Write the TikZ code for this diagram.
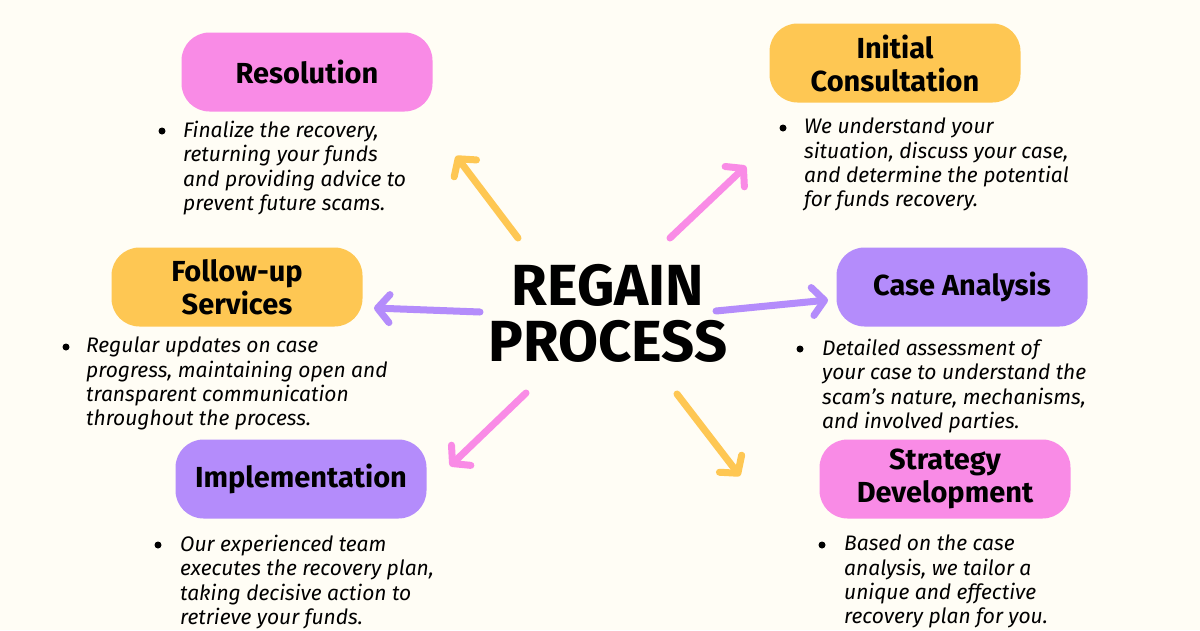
\documentclass[tikz,border=0pt]{standalone}
\usepackage{fontspec}
\setmainfont{Fira Sans}
\usetikzlibrary{arrows.meta}
\definecolor{bg}{HTML}{FFFDF5}
\definecolor{pk}{HTML}{F98BE6}
\definecolor{yl}{HTML}{FEC753}
\definecolor{pu}{HTML}{B48CFB}
\begin{document}
\begin{tikzpicture}[x=1pt,y=-1pt,
 box/.style={rounded corners=28pt,minimum width=251pt,minimum height=79pt,inner sep=0pt,align=center,font=\fontsize{29}{33}\selectfont\bfseries},
 txt/.style={anchor=north west,inner sep=0pt,align=left,font=\fontsize{21}{24.3}\selectfont\itshape},
 dot/.style={circle,fill=black,inner sep=0pt,minimum size=7pt},
 arr/.style={line width=7pt,line cap=round,-{Straight Barb[length=12pt,width=28pt,line width=7pt,round]}}]
\fill[bg] (0,0) rectangle (1200,630);
\useasboundingbox (0,0) rectangle (1200,630);
\node[box,fill=pk] (res) at (307,72) {Resolution};
\node[box,fill=yl] (ini) at (895,63) {Initial\\Consultation};
\node[box,fill=yl] (fol) at (237,287) {Follow-up\\Services};
\node[box,fill=pu] (cas) at (962,287) {Case Analysis};
\node[box,fill=pu] (imp) at (301,479) {Implementation};
\node[box,fill=pk] (str) at (945,479) {Strategy\\Development};
\node[font=\fontsize{58}{56}\selectfont\bfseries,align=center] (c) at (608,313) {REGAIN\\PROCESS};
\node[dot] (d1) at (162,131) {}; \node[txt] (t1) at (183,121) {Finalize the recovery,\\returning your funds\\and providing advice to\\prevent future scams.};
\node[dot] (d2) at (783,128) {}; \node[txt] (t2) at (804,118) {We understand your\\situation, discuss your case,\\and determine the potential\\for funds recovery.};
\node[dot] (d3) at (66,347) {}; \node[txt] (t3) at (86,337) {Regular updates on case\\progress, maintaining open and\\transparent communication\\throughout the process.};
\node[dot] (d4) at (800,349) {}; \node[txt] (t4) at (822,339) {Detailed assessment of\\your case to understand the\\scam's nature, mechanisms,\\and involved parties.};
\node[dot] (d5) at (158,545) {}; \node[txt] (t5) at (180,535) {Our experienced team\\executes the recovery plan,\\taking decisive action to\\retrieve your funds.};
\node[dot] (d6) at (822,545) {}; \node[txt] (t6) at (844,535) {Based on the case\\analysis, we tailor a\\unique and effective\\recovery plan for you.};
\coordinate (a1s) at (518,238); \coordinate (a1e) at (456,156);
\coordinate (a2s) at (670,238); \coordinate (a2e) at (746,166);
\coordinate (a3s) at (480,312); \coordinate (a3e) at (374,308);
\coordinate (a4s) at (716,311); \coordinate (a4e) at (828,300);
\coordinate (a5s) at (526,393); \coordinate (a5e) at (450,466);
\coordinate (a6s) at (677,394); \coordinate (a6e) at (740,476);
\draw[arr,yl] (a1s) -- (a1e);
\draw[arr,pk] (a2s) -- (a2e);
\draw[arr,pu] (a3s) -- (a3e);
\draw[arr,pu] (a4s) -- (a4e);
\draw[arr,pk] (a5s) -- (a5e);
\draw[arr,yl] (a6s) -- (a6e);
\end{tikzpicture}
\end{document}
